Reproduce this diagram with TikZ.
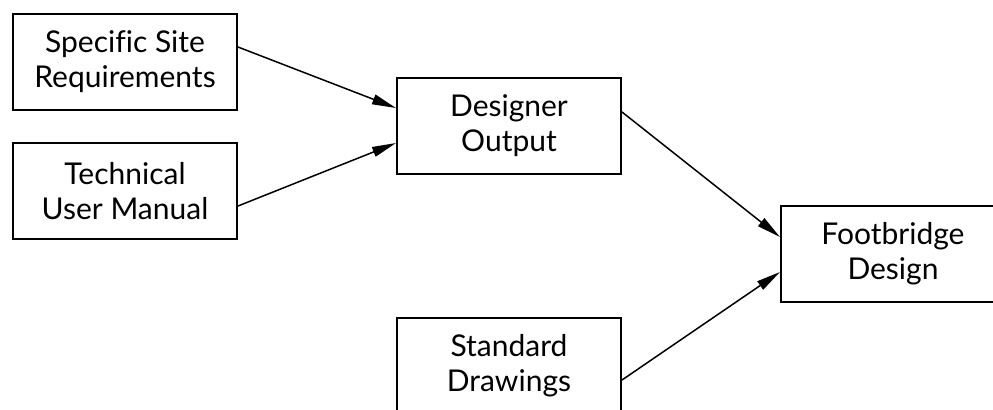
\documentclass[tikz,border=0pt]{standalone}
\usepackage{fontspec}
\setmainfont[Ligatures=NoCommon]{Lato}
\usetikzlibrary{arrows.meta}

\tikzset{
  box/.style={draw, line width=1pt, minimum width=112pt, minimum height=48pt,
    inner sep=0pt, align=center, font=\fontsize{15}{17.5}\selectfont},
  flow/.style={-{Triangle[length=12pt,width=5pt]}, line width=0.75pt}
}

\begin{document}
\begin{tikzpicture}[x=0.5pt,y=-0.5pt]
    \useasboundingbox (0,0) rectangle (993,409);

    \node[box] (site) at (125,62) {Specific Site\\Requirements};
    \node[box] (manual) at (125,191) {Technical\\User Manual};
    \node[box] (output) at (509,126) {Designer\\Output};
    \node[box] (bridge) at (893,254) {Footbridge\\Design};
    \node[box] (drawings) at (509,366) {Standard\\Drawings};

    \draw[flow] ([yshift=7.5pt]site.east) -- ([yshift=9pt]output.west);
    \draw[flow] ([yshift=-7.5pt]manual.east) -- ([yshift=-8.5pt]output.west);
    \draw[flow] ([yshift=7pt]output.east) -- ([yshift=8.5pt]bridge.west);
    \draw[flow] ([yshift=-7pt]drawings.east) -- ([yshift=-9pt]bridge.west);
\end{tikzpicture}
\end{document}
